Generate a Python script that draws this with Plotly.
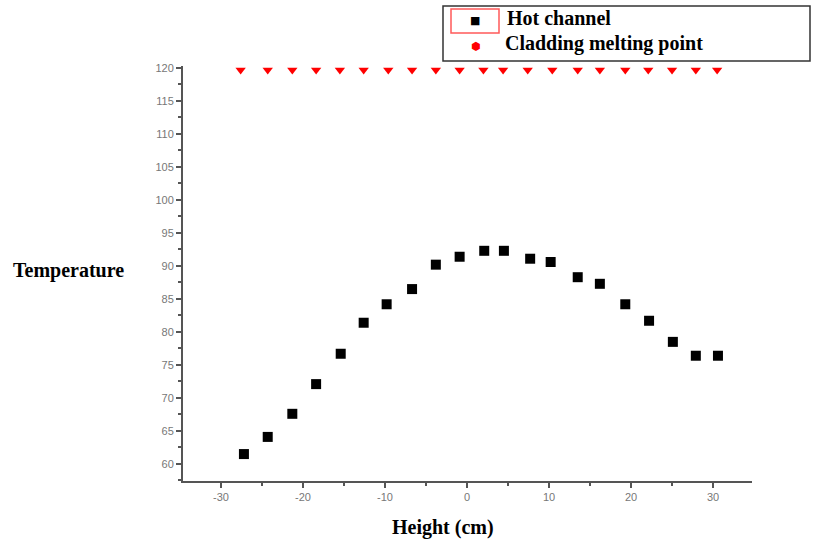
import plotly.graph_objects as go

height_cm = [-27.2, -24.3, -21.3, -18.4, -15.4, -12.6, -9.8, -6.7, -3.8, -0.9, 2.1,
             4.5, 7.7, 10.2, 13.5, 16.2, 19.3, 22.2, 25.1, 27.9, 30.6]
hot_channel = [61.5, 64.1, 67.6, 72.1, 76.7, 81.4, 84.2, 86.5, 90.2, 91.4, 92.3,
               92.3, 91.1, 90.6, 88.3, 87.3, 84.2, 81.7, 78.5, 76.4, 76.4]
melting_x = [-27.6, -24.3, -21.3, -18.4, -15.5, -12.6, -9.6, -6.7, -3.8, -0.9, 2.0,
             4.4, 7.4, 10.4, 13.5, 16.2, 19.3, 22.1, 25.0, 27.9, 30.5]
melting_point = [119.7] * len(melting_x)

x_ticks = [-30, -20, -10, 0, 10, 20, 30]
x_tick_labels = ["-30", "-20", "-10", "0", "10", "20", "30"]
y_ticks = [60, 65, 70, 75, 80, 85, 90, 95, 100, 105, 110, 115, 120]
legend_names = ["Hot channel", "Cladding melting point"]

serif = "Liberation Serif"

L, R, T, B = 183, 71, 66, 64
W, H = 823, 545
pw, ph = W - L - R, H - T - B


def px(xp):
    return (xp - L) / pw


def py(yp):
    return (H - B - yp) / ph


fig = go.Figure()
fig.add_trace(go.Scatter(x=height_cm, y=hot_channel, mode="markers", name=legend_names[0],
                         marker=dict(symbol="square", size=10, color="black")))
fig.add_trace(go.Scatter(x=melting_x, y=melting_point, mode="markers", name=legend_names[1],
                         marker=dict(symbol="triangle-down", size=9, color="#ff0000")))

fig.update_layout(
    width=W, height=H,
    margin=dict(l=L, r=R, t=T, b=B, autoexpand=False),
    plot_bgcolor="white", paper_bgcolor="white",
    showlegend=False,
    xaxis=dict(range=[-34.63, 34.75], tickvals=x_ticks, ticktext=x_tick_labels,
               ticks="outside", ticklen=5, tickwidth=2,
               tickcolor="#555", showline=True, linecolor="#555", linewidth=2,
               showgrid=False, zeroline=False,
               tickfont=dict(family="Liberation Sans", size=11, color="#777"),
               minor=dict(dtick=5, ticks="outside", ticklen=3, tickwidth=2, tickcolor="#555")),
    yaxis=dict(range=[57.42, 120.3], tickvals=y_ticks, ticks="outside", ticklen=5, tickwidth=2,
               tickcolor="#555", showline=True, linecolor="#555", linewidth=2,
               showgrid=False, zeroline=False,
               tickfont=dict(family="Liberation Sans", size=11, color="#777"),
               minor=dict(dtick=2.5, ticks="outside", ticklen=3, tickwidth=2, tickcolor="#555")),
    shapes=[
        dict(type="rect", xref="paper", yref="paper", x0=px(443), x1=px(810),
             y0=py(61), y1=py(6), line=dict(color="#333", width=1.5)),
        dict(type="rect", xref="paper", yref="paper", x0=px(451), x1=px(499),
             y0=py(33), y1=py(9), line=dict(color="#ff5a5a", width=1.5)),
    ],
    annotations=[
        dict(text="<b>Temperature</b>", xref="paper", yref="paper", x=px(126),
             y=py(270), xanchor="right", yanchor="middle", showarrow=False,
             font=dict(family=serif, size=20, color="black")),
        dict(text="<b>Height (cm)</b>", xref="paper", yref="paper", x=px(443),
             y=py(527), xanchor="center", yanchor="middle", showarrow=False,
             font=dict(family=serif, size=20, color="black")),
        dict(text="■", xref="paper", yref="paper", x=px(475), y=py(21),
             xanchor="center", yanchor="middle", showarrow=False,
             font=dict(family="DejaVu Sans", size=11, color="black")),
        dict(text="⬢", xref="paper", yref="paper", x=px(476), y=py(46),
             xanchor="center", yanchor="middle", showarrow=False,
             font=dict(family="DejaVu Sans", size=11, color="#ff0000")),
        dict(text="<b>" + legend_names[0] + "</b>", xref="paper", yref="paper", x=px(505),
             y=py(18), xanchor="left", yanchor="middle", showarrow=False,
             font=dict(family=serif, size=20, color="black")),
        dict(text="<b>" + legend_names[1] + "</b>", xref="paper", yref="paper", x=px(503),
             y=py(43), xanchor="left", yanchor="middle", showarrow=False,
             font=dict(family=serif, size=20, color="black")),
    ],
)
fig.write_html("out.html")
